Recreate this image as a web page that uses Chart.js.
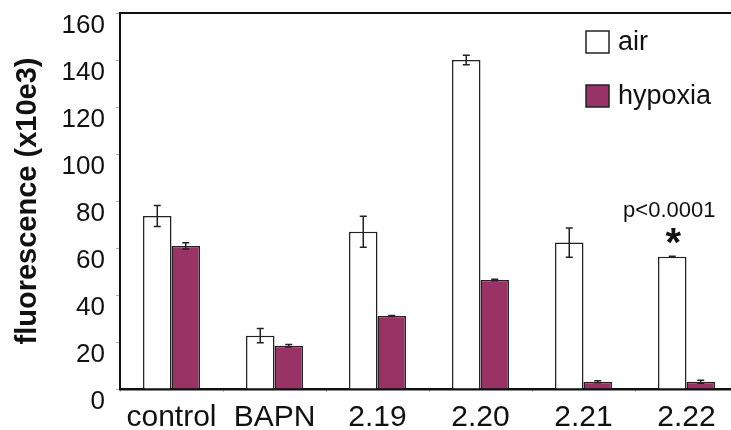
<!DOCTYPE html>
<html>
<head>
<meta charset="utf-8">
<script src="https://cdn.jsdelivr.net/npm/chart.js@4.4.0/dist/chart.umd.min.js"></script>
<style>
  html, body { margin: 0; padding: 0; background: #fff; overflow: hidden; }
  #wrap { width: 740px; height: 430px; }
</style>
</head>
<body>
<div id="wrap"><canvas id="chart" width="740" height="430"></canvas></div>
<script>
// data
const categories = ['control', 'BAPN', '2.19', '2.20', '2.21', '2.22'];
const airValues = [73.6, 22.7, 66.9, 140, 62.3, 56.3];
const airErrors = [4.5, 3.0, 6.6, 2.0, 6.2, 0.2];
const hypoxiaValues = [60.9, 18.4, 31.1, 46.4, 3.1, 3.1];
const hypoxiaErrors = [1.3, 0.5, 0.2, 0.3, 0.4, 0.6];
const yMin = 0;
const yMax = 160;
const yStep = 20;
const pLabel = 'p<0.0001';
const pIndex = 5;

const FONT = '"Liberation Sans", Arial, sans-serif';
const INK = '#111';
const MAROON = '#993366';

// error bars drawn through the y scale
const errorBars = {
    id: 'errorBars',
    afterDatasetsDraw(chart) {
        const ctx = chart.ctx;
        const y = chart.scales.y;
        const errs = [airErrors, hypoxiaErrors];
        ctx.save();
        ctx.strokeStyle = '#222';
        ctx.lineWidth = 1.5;
        chart.data.datasets.forEach((ds, di) => {
            const meta = chart.getDatasetMeta(di);
            meta.data.forEach((bar, i) => {
                const v = ds.data[i];
                const e = errs[di][i];
                const top = y.getPixelForValue(v + e);
                const bot = y.getPixelForValue(v - e);
                const cap = 3.5;
                ctx.beginPath();
                ctx.moveTo(bar.x, top); ctx.lineTo(bar.x, bot);
                ctx.moveTo(bar.x - cap, top); ctx.lineTo(bar.x + cap, top);
                ctx.moveTo(bar.x - cap, bot); ctx.lineTo(bar.x + cap, bot);
                ctx.stroke();
            });
        });
        ctx.restore();
    }
};

// top frame line, legend and significance note
const extras = {
    id: 'extras',
    afterDraw(chart) {
        const ctx = chart.ctx;
        const area = chart.chartArea;
        ctx.save();
        ctx.strokeStyle = INK;
        ctx.lineWidth = 2;
        ctx.beginPath();
        ctx.moveTo(area.left - 1, area.top);
        ctx.lineTo(chart.width, area.top);
        ctx.stroke();

        // legend
        ctx.font = '27px ' + FONT;
        ctx.textBaseline = 'middle';
        ctx.textAlign = 'left';
        const items = chart.data.datasets;
        items.forEach((ds, k) => {
            const bx = 586, by = 31 + k * 54;
            ctx.fillStyle = ds.backgroundColor;
            ctx.fillRect(bx, by, 23, 22);
            ctx.lineWidth = 1.5;
            ctx.strokeStyle = '#222';
            ctx.strokeRect(bx, by, 23, 22);
            ctx.fillStyle = INK;
            ctx.fillText(ds.label, bx + 32, by + 12);
        });

        // p value and asterisk above the 2.22 air bar
        const bar = chart.getDatasetMeta(0).data[pIndex];
        ctx.textAlign = 'center';
        ctx.textBaseline = 'alphabetic';
        ctx.font = '22px ' + FONT;
        ctx.fillText(pLabel, bar.x - 3, bar.y - 40);
        ctx.font = 'bold 40px ' + FONT;
        ctx.fillText('*', bar.x + 1, bar.y - 1);
        ctx.restore();
    }
};

new Chart(document.getElementById('chart'), {
    type: 'bar',
    data: {
        labels: categories,
        datasets: [{
            label: 'air',
            data: airValues,
            backgroundColor: '#ffffff',
            borderColor: '#222',
            borderWidth: 1.5,
            categoryPercentage: 0.553,
            barPercentage: 1.0
        }, {
            label: 'hypoxia',
            data: hypoxiaValues,
            backgroundColor: MAROON,
            borderColor: '#222',
            borderWidth: 1.5,
            categoryPercentage: 0.553,
            barPercentage: 1.0
        }]
    },
    options: {
        responsive: false,
        devicePixelRatio: 1,
        animation: false,
        layout: { padding: { top: 13, right: 2, left: 0, bottom: 0 } },
        plugins: {
            legend: { display: false },
            tooltip: { enabled: false }
        },
        scales: {
            x: {
                grid: { drawOnChartArea: false, drawTicks: true, tickLength: 3, color: '#bbb' },
                border: { display: true, color: INK, width: 2.5 },
                ticks: { color: INK, font: { family: FONT, size: 30 }, padding: 8, maxRotation: 0 },
                afterFit(scale) { scale.height = 41; }
            },
            y: {
                min: yMin,
                max: yMax,
                grid: { drawOnChartArea: false, drawTicks: true, tickLength: 4, color: '#aaa' },
                border: { display: true, color: INK, width: 2 },
                ticks: { stepSize: yStep, color: INK, font: { family: FONT, size: 26 }, padding: 11, labelOffset: 13 },
                title: {
                    display: true,
                    text: 'fluorescence (x10e3)',
                    color: INK,
                    font: { family: FONT, size: 29, weight: 'bold' },
                    padding: { top: 11, bottom: 0 }
                },
                afterFit(scale) {
                    scale.width = 120;
                    scale.paddingTop = 0;
                    scale.paddingBottom = 0;
                }
            }
        }
    },
    plugins: [errorBars, extras]
});
</script>
</body>
</html>
